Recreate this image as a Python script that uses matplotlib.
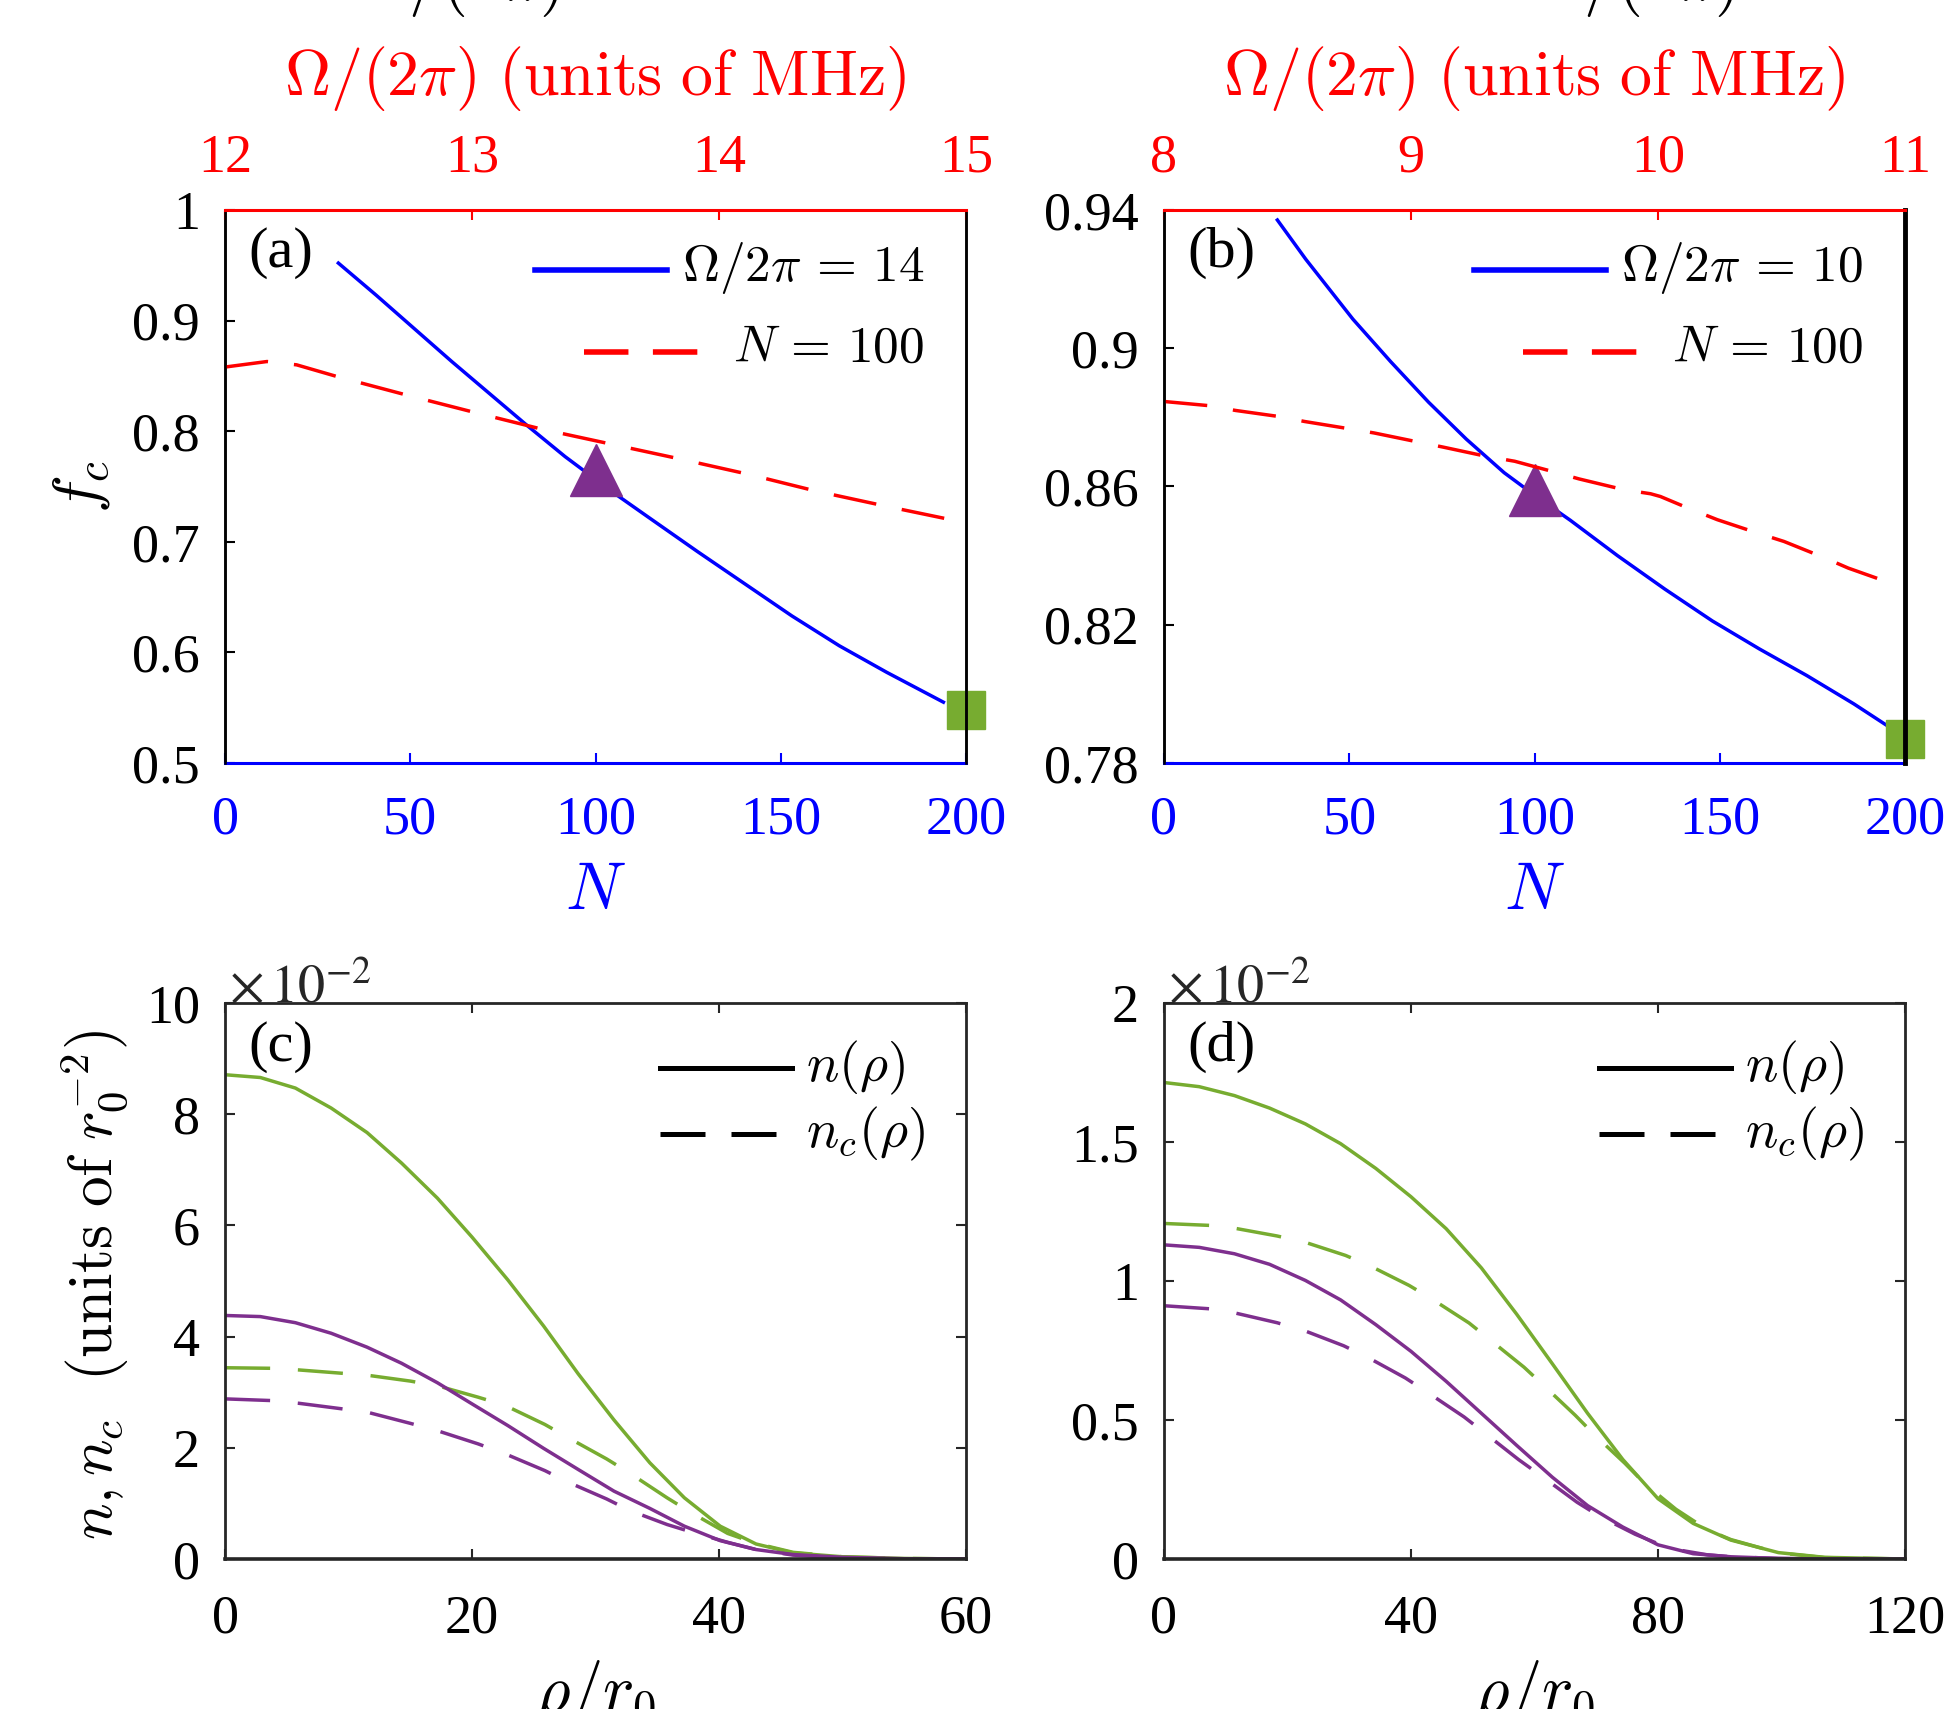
import numpy as np
import matplotlib
matplotlib.use('Agg')
import matplotlib.pyplot as plt
from matplotlib.ticker import FormatStrFormatter

plt.rcParams['font.family'] = 'serif'
plt.rcParams['font.serif'] = ['Liberation Serif', 'DejaVu Serif']
plt.rcParams['mathtext.fontset'] = 'cm'

BLUE = '#0000ff'
RED = '#ff0000'
GREEN = '#77ac30'
PURPLE = '#7e2f8e'
DARK = '#262626'

# ---- panel (a): f_c vs N (Omega/2pi = 14) and vs Omega (N = 100)
N_a = [30.6, 40.8, 51, 61.2, 71.4, 81.6, 91.8, 104.6, 114.8, 127.6, 140.3, 153, 165.8, 178.6, 193.9]
fc_N_a = [0.952, 0.923, 0.893, 0.863, 0.834, 0.805, 0.777, 0.745, 0.721, 0.691, 0.662, 0.633,
          0.606, 0.582, 0.555]
omega_a = [12.0, 12.17, 12.29, 12.46, 12.73, 13.01, 13.28, 13.57, 13.84, 14.12, 14.39, 14.68, 14.96]
fc_omega_a = [0.858, 0.863, 0.860, 0.849, 0.833, 0.817, 0.802, 0.788, 0.775, 0.761, 0.746, 0.732, 0.719]
tri_a = (100, 0.765)
sq_a = (200, 0.548)

# ---- panel (b): f_c vs N (Omega/2pi = 10) and vs Omega (N = 100)
N_b = [30.6, 38.3, 51, 61.2, 71.4, 81.6, 91.8, 100, 109.7, 122.4, 135.2, 148, 160.7, 173.5, 186.2, 195.2]
fc_N_b = [0.9371, 0.9257, 0.9084, 0.8961, 0.8844, 0.8737, 0.8640, 0.8575, 0.8502, 0.8400, 0.8303,
          0.8211, 0.8130, 0.8053, 0.7971, 0.7908]
omega_b = [8.0, 8.18, 8.29, 8.46, 8.57, 8.75, 8.85, 9.02, 9.13, 9.3, 9.42, 9.58, 9.68, 9.86, 9.97,
           10.01, 10.12, 10.24, 10.4, 10.51, 10.67, 10.77, 10.94]
fc_omega_b = [0.8846, 0.8834, 0.8820, 0.8803, 0.8788, 0.8767, 0.8755, 0.8730, 0.8714, 0.8688, 0.8673,
              0.8642, 0.8622, 0.8591, 0.8579, 0.8571, 0.8538, 0.8504, 0.8466, 0.8441, 0.8395, 0.8364,
              0.8321]
tri_b = (100, 0.859)
sq_b = (200, 0.787)

# ---- panel (c): densities in units of 1e-2 r0^-2
rho_c = [0, 2.86, 5.7, 8.6, 11.5, 14.3, 17.2, 20.0, 22.9, 25.8, 28.6, 31.5, 34.4, 37.2, 40.1, 43.0,
         46.0, 50.0, 55.0, 60.0]
n_green_c = [8.71, 8.66, 8.47, 8.11, 7.67, 7.12, 6.49, 5.79, 5.02, 4.19, 3.33, 2.50, 1.73, 1.10, 0.59,
             0.27, 0.11, 0.04, 0.01, 0.0]
n_purple_c = [4.38, 4.36, 4.25, 4.06, 3.81, 3.52, 3.17, 2.79, 2.40, 1.99, 1.61, 1.22, 0.91, 0.59, 0.33,
              0.17, 0.08, 0.03, 0.005, 0.0]
rho_c_nc = [0, 3.7, 6.0, 9.5, 11.7, 15.0, 17.3, 20.5, 22.7, 25.9, 27.8, 30.9, 32.8, 35.8, 37.7, 40.7,
            43.0, 46.0, 50.0, 55.0, 60.0]
nc_green_c = [3.44, 3.43, 3.40, 3.34, 3.30, 3.20, 3.11, 2.91, 2.76, 2.42, 2.18, 1.80, 1.54, 1.10, 0.84,
              0.46, 0.28, 0.12, 0.04, 0.01, 0.0]
nc_purple_c = [2.88, 2.85, 2.80, 2.70, 2.63, 2.44, 2.30, 2.07, 1.89, 1.59, 1.38, 1.08, 0.87, 0.62, 0.49,
               0.30, 0.17, 0.07, 0.02, 0.0, 0.0]

# ---- panel (d)
rho_d = [0, 5.7, 11.4, 17.1, 22.9, 28.6, 34.3, 40.0, 45.7, 51.4, 57.1, 62.9, 68.6, 74.3, 80.0, 85.7,
         91.8, 99.5, 107.0, 120.0]
n_green_d = [1.714, 1.699, 1.667, 1.622, 1.565, 1.494, 1.405, 1.303, 1.188, 1.047, 0.881, 0.702, 0.524,
             0.358, 0.217, 0.128, 0.068, 0.023, 0.006, 0.0]
n_purple_d = [1.130, 1.121, 1.098, 1.060, 1.002, 0.932, 0.843, 0.747, 0.639, 0.524, 0.409, 0.294, 0.192,
              0.115, 0.051, 0.019, 0.008, 0.002, 0.0, 0.0]
rho_d_ncg = [0, 7.4, 11.4, 18.3, 22.9, 29.4, 33.4, 39.7, 43.4, 49.4, 52.6, 58.3, 61.4, 66.6, 69.7, 74.6,
             78.0, 82.9, 88.0, 91.8, 99.5, 107.0, 120.0]
nc_green_d = [1.207, 1.200, 1.190, 1.162, 1.139, 1.092, 1.054, 0.984, 0.935, 0.849, 0.792, 0.690, 0.626,
              0.517, 0.447, 0.345, 0.268, 0.179, 0.105, 0.070, 0.022, 0.005, 0.0]
rho_d_ncp = [0, 7.4, 11.7, 18.3, 22.9, 29.1, 33.1, 39.1, 42.9, 48.6, 52.3, 57.4, 61.4, 66.9, 70.6, 76.3,
             80.0, 84.0, 88.0, 91.8, 99.5, 107.0, 120.0]
nc_purple_d = [0.911, 0.900, 0.884, 0.850, 0.820, 0.767, 0.724, 0.651, 0.596, 0.511, 0.447, 0.358, 0.294,
               0.204, 0.153, 0.089, 0.055, 0.030, 0.015, 0.008, 0.002, 0.0, 0.0]

TICK_FS = 39
LAB_FS = 46
LEG_FS = 37
LW = 2.5

fig = plt.figure(figsize=(19.59, 17.09), dpi=100)

W = 741 / 1959
H_top = 553 / 1709
H_bot = 556 / 1709
X1 = 225 / 1959
X2 = 1164 / 1959
Y_top = 1 - 763 / 1709
Y_bot = 1 - 1559 / 1709


def top_panel(rect, N, fcN, om, fcom, tri, sq, ylim, yticks, omlim, label, leg_om, right_lw):
    ax = fig.add_axes(rect)
    axt = ax.twiny()
    ax.plot(N, fcN, color=BLUE, lw=LW)
    axt.plot(om, fcom, color=RED, lw=LW, dashes=(12.5, 7.5))
    ax.plot(*tri, marker='^', ms=38, color=PURPLE, clip_on=False, zorder=2.4)
    ax.plot(*sq, marker='s', ms=28, color=GREEN, clip_on=False, zorder=2.4)

    ax.set_xlim(0, 200)
    ax.set_xticks([0, 50, 100, 150, 200])
    ax.set_ylim(*ylim)
    ax.set_yticks(yticks)
    ax.yaxis.set_major_formatter(FormatStrFormatter('%g'))
    axt.set_xlim(*omlim)
    axt.set_xticks(np.arange(omlim[0], omlim[1] + 1))

    ax.tick_params(axis='x', colors=BLUE, direction='in', length=7, width=1.5,
                   labelsize=TICK_FS, pad=23)
    ax.tick_params(axis='y', colors='k', direction='in', length=7, width=1.5,
                   labelsize=TICK_FS, pad=18, right=False)
    axt.tick_params(axis='x', colors=RED, direction='in', length=7, width=1.5,
                    labelsize=TICK_FS, pad=19)

    for a in (ax, axt):
        for s in a.spines.values():
            s.set_linewidth(1.8)
            s.set_color('k')
    ax.spines['bottom'].set_color(BLUE)
    ax.spines['bottom'].set_linewidth(2.2)
    ax.spines['top'].set_visible(False)
    axt.spines['bottom'].set_visible(False)
    axt.spines['top'].set_color(RED)
    axt.spines['top'].set_linewidth(2.2)
    axt.spines['right'].set_linewidth(right_lw)

    ax.set_xlabel(r'$N$', color=BLUE, fontsize=LAB_FS + 2)
    ax.xaxis.set_label_coords(0.5, -0.179)
    axt.set_xlabel(r'$\Omega/(2\pi)\ (\mathrm{units\ of\ MHz})$', color=RED, fontsize=LAB_FS)
    axt.xaxis.set_label_coords(0.5, 1.208)

    ax.text(0.032, 0.923, label, transform=ax.transAxes, fontsize=TICK_FS + 3,
            ha='left', va='center')

    # legend drawn by hand: right aligned texts, handles to their left
    ax.plot([0.418, 0.596], [0.891, 0.891], transform=ax.transAxes, color=BLUE,
            lw=4.0, clip_on=False)
    ax.text(0.944, 0.895, leg_om, transform=ax.transAxes, fontsize=LEG_FS,
            ha='right', va='center')
    ax.plot([0.485, 0.638], [0.743, 0.743], transform=ax.transAxes, color=RED,
            lw=4.0, dashes=(8, 4.4), clip_on=False)
    ax.text(0.944, 0.748, r'$N\,=\,100$', transform=ax.transAxes, fontsize=LEG_FS,
            ha='right', va='center')
    return ax


def bottom_panel(rect, xlim, xticks, ylim, yticks, label):
    ax = fig.add_axes(rect)
    ax.set_xlim(*xlim)
    ax.set_xticks(xticks)
    ax.set_ylim(*ylim)
    ax.set_yticks(yticks)
    ax.yaxis.set_major_formatter(FormatStrFormatter('%g'))
    ax.tick_params(direction='in', length=7, width=1.5, colors=DARK,
                   labelcolor='k', labelsize=TICK_FS, top=True, right=True)
    ax.tick_params(axis='x', pad=25)
    ax.tick_params(axis='y', pad=18)
    for s in ax.spines.values():
        s.set_linewidth(2.0)
        s.set_color(DARK)
    ax.spines['bottom'].set_linewidth(2.6)

    ax.text(0.005, 1.0, r'$\times\,10^{-2}$', transform=ax.transAxes, fontsize=TICK_FS,
            ha='left', va='baseline', math_fontfamily='stix', color=DARK)
    ax.text(0.032, 0.921, label, transform=ax.transAxes, fontsize=TICK_FS + 3,
            ha='left', va='center')
    ax.set_xlabel(r'$\rho/r_0$', fontsize=LAB_FS + 2)
    ax.xaxis.set_label_coords(0.5, -0.178)

    ax.plot([0.587, 0.765], [0.883, 0.883], transform=ax.transAxes, color='k',
            lw=3.6, clip_on=False)
    ax.text(0.784, 0.883, r'$n(\rho)$', transform=ax.transAxes, fontsize=LEG_FS + 2,
            ha='left', va='center')
    ax.plot([0.587, 0.743], [0.764, 0.764], transform=ax.transAxes, color='k',
            lw=3.6, dashes=(9, 5.2), clip_on=False)
    ax.text(0.784, 0.764, r'$n_c(\rho)$', transform=ax.transAxes, fontsize=LEG_FS + 2,
            ha='left', va='center')
    return ax


ax_a = top_panel([X1, Y_top, W, H_top], N_a, fc_N_a, omega_a, fc_omega_a, tri_a, sq_a,
                 (0.5, 1.0), [0.5, 0.6, 0.7, 0.8, 0.9, 1.0], (12, 15), '(a)',
                 r'$\Omega/2\pi\,=\,14$', 1.8)
ax_a.set_ylabel(r'$f_c$', fontsize=LAB_FS)
ax_a.yaxis.set_label_coords(-0.152, 0.5)

ax_b = top_panel([X2, Y_top, W, H_top], N_b, fc_N_b, omega_b, fc_omega_b, tri_b, sq_b,
                 (0.78, 0.94), [0.78, 0.82, 0.86, 0.90, 0.94], (8, 11), '(b)',
                 r'$\Omega/2\pi\,=\,10$', 3.5)

DASH_N = (13, 8)
ax_c = bottom_panel([X1, Y_bot, W, H_bot], (0, 60), [0, 20, 40, 60], (0, 10),
                    [0, 2, 4, 6, 8, 10], '(c)')
ax_c.plot(rho_c, n_green_c, color=GREEN, lw=LW)
ax_c.plot(rho_c_nc, nc_green_c, color=GREEN, lw=LW, dashes=DASH_N)
ax_c.plot(rho_c, n_purple_c, color=PURPLE, lw=LW)
ax_c.plot(rho_c_nc, nc_purple_c, color=PURPLE, lw=LW, dashes=DASH_N)
ax_c.set_ylabel(r'$n, n_c\ \ (\mathrm{units\ of}\ r_0^{-2})$', fontsize=LAB_FS - 2)
ax_c.yaxis.set_label_coords(-0.127, 0.493)

ax_d = bottom_panel([X2, Y_bot, W, H_bot], (0, 120), [0, 40, 80, 120], (0, 2),
                    [0, 0.5, 1, 1.5, 2], '(d)')
ax_d.plot(rho_d, n_green_d, color=GREEN, lw=LW)
ax_d.plot(rho_d_ncg, nc_green_d, color=GREEN, lw=LW, dashes=DASH_N)
ax_d.plot(rho_d, n_purple_d, color=PURPLE, lw=LW)
ax_d.plot(rho_d_ncp, nc_purple_d, color=PURPLE, lw=LW, dashes=DASH_N)

# labels of the panels above, cut off by the crop
fig.text(0.18, 1.0, r'$\Delta/(2\pi)$', fontsize=LAB_FS + 2, ha='left', va='baseline')
fig.text(0.78, 1.0, r'$\Delta/(2\pi)$', fontsize=LAB_FS + 2, ha='left', va='baseline')

fig.savefig('out.png', dpi=100)
